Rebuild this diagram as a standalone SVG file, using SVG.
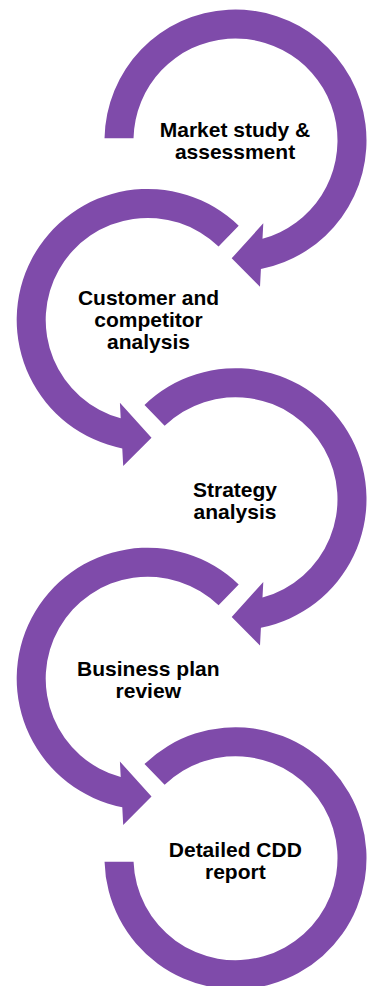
<svg xmlns="http://www.w3.org/2000/svg" width="373" height="986" viewBox="0 0 373 986">
  <style>
    .ring { fill: #7f4baa; stroke: none; }
    .label { font-family: "Liberation Sans", Arial, sans-serif; font-weight: bold; font-size: 21px; fill: #000000; text-anchor: middle; }
  </style>
  <defs>
    <path id="arrowFromLeft" d="M -130.98,-2.2 A 131 131 0 1 1 25.42,128.51 L 24.5,146.2 L -3.8,117.8 L 27.8,82.8 L 26.99,98.37 A 102 102 0 1 0 -101.98,-2.2 Z"/>
    <path id="arrowFromTail" d="M -91.0,-94.23 A 131 131 0 1 1 25.42,128.51 L 24.5,146.2 L -3.8,117.8 L 27.8,82.8 L 26.99,98.37 A 102 102 0 1 0 -70.86,-73.37 Z"/>
    <path id="ringEnd" d="M -91.0,-94.23 A 131 131 0 1 1 -130.95,3.5 L -101.94,3.5 A 102 102 0 1 0 -70.86,-73.37 Z"/>
  </defs>
  <rect x="0" y="0" width="373" height="986" fill="#ffffff"/>

  <g id="step1-market-study">
    <use href="#arrowFromLeft" class="ring" transform="translate(235.5,140.5)"/>
    <text class="label" x="235" y="137.3">Market study &amp;</text>
    <text class="label" x="235" y="159.3">assessment</text>
  </g>

  <g id="step2-customer-competitor">
    <use href="#arrowFromTail" class="ring" transform="translate(147.7,319.9) scale(-1,1)"/>
    <text class="label" x="148.5" y="305">Customer and</text>
    <text class="label" x="148.5" y="327.2">competitor</text>
    <text class="label" x="148.5" y="349.4">analysis</text>
  </g>

  <g id="step3-strategy">
    <use href="#arrowFromTail" class="ring" transform="translate(235.5,499.2)"/>
    <text class="label" x="235" y="496.7">Strategy</text>
    <text class="label" x="235" y="518.5">analysis</text>
  </g>

  <g id="step4-business-plan">
    <use href="#arrowFromTail" class="ring" transform="translate(147.7,678.7) scale(-1,1)"/>
    <text class="label" x="148.3" y="676">Business plan</text>
    <text class="label" x="148.3" y="698.2">review</text>
  </g>

  <g id="step5-cdd-report">
    <use href="#ringEnd" class="ring" transform="translate(235.5,858.2)"/>
    <text class="label" x="235.3" y="856.7">Detailed CDD</text>
    <text class="label" x="235.3" y="878.5">report</text>
  </g>

  <g id="connectors"></g>
</svg>
